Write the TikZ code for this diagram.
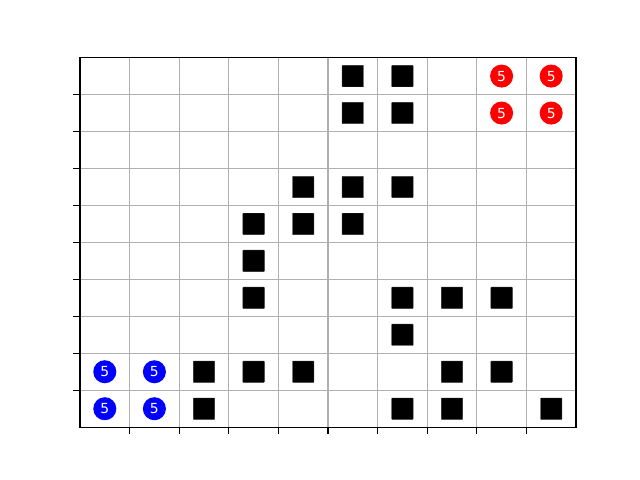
\documentclass[tikz,border=0pt]{standalone}
\usepackage{fontspec}
\setmainfont{DejaVu Sans}
\begin{document}
\begin{tikzpicture}[x=35.712pt,y=26.611pt,
  gridline/.style={draw={rgb,255:red,176;green,176;blue,176},line width=0.8pt},
  spine/.style={draw=black,line width=0.8pt,line cap=rect},
  tickmark/.style={draw=black,line width=0.8pt},
  blk/.style={rectangle,fill=black,draw={rgb,255:red,40;green,40;blue,40},line width=0.3pt,rounded corners=0.4pt,minimum size=15.4pt,inner sep=0pt},
  disc/.style={circle,minimum size=16.6pt,inner sep=0pt,text=white,font=\fontsize{10pt}{12pt}\selectfont},
  redd/.style={disc,fill={rgb,255:red,255;green,0;blue,0}},
  blued/.style={disc,fill={rgb,255:red,0;green,0;blue,255}}]
\useasboundingbox (-1.6129,-1.4286) rectangle (11.2903,11.5584);
% grid
\foreach \i in {1,...,9} {
  \draw[gridline] (\i,0) -- (\i,10);
  \draw[gridline] (0,\i) -- (10,\i);
  \draw[tickmark] (\i,0) -- (\i,-0.1815);
  \draw[tickmark] (0,\i) -- (-0.1361,\i);
}
\draw[spine] (0,0) rectangle (10,10);
% black squares: column/row-from-top
\foreach \c/\r in {5/0,6/0,5/1,6/1,4/3,5/3,6/3,3/4,4/4,5/4,3/5,3/6,6/6,7/6,8/6,6/7,2/8,3/8,4/8,7/8,8/8,2/9,6/9,7/9,9/9} {
  \node[blk] (s-\c-\r) at ({\c+0.5},{9.5-\r}) {};
}
\foreach \c/\r in {8/0,9/0,8/1,9/1} {
  \node[redd] (r-\c-\r) at ({\c+0.5},{9.5-\r}) {5};
}
\foreach \c/\r in {0/8,1/8,0/9,1/9} {
  \node[blued] (b-\c-\r) at ({\c+0.5},{9.5-\r}) {5};
}
\end{tikzpicture}
\end{document}
